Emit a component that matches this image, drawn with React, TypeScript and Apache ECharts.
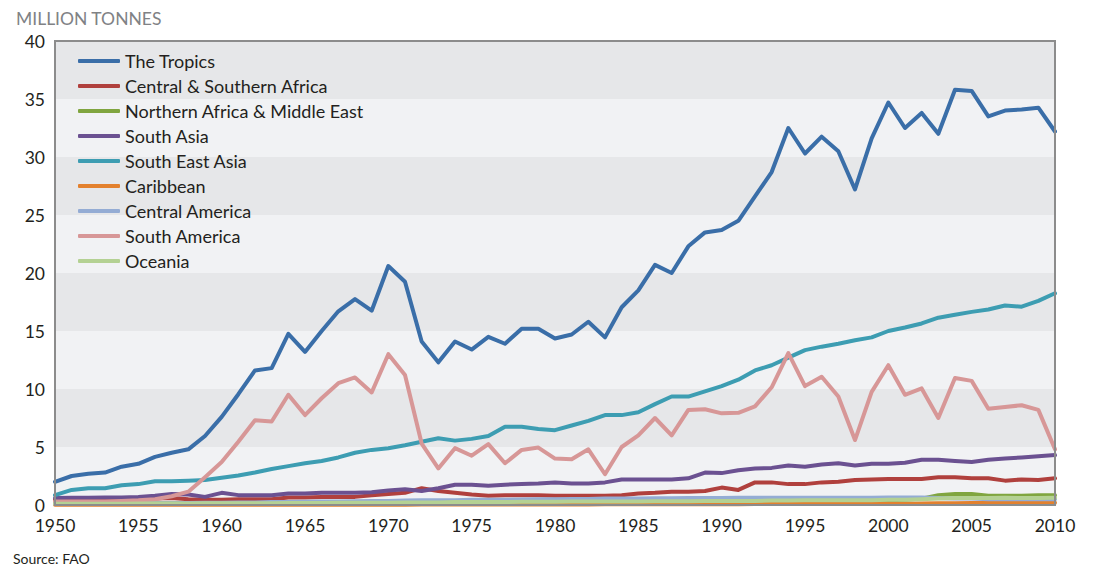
import React, { useEffect, useRef } from "react";
import * as echarts from "echarts";

const years: number[] = Array.from({ length: 61 }, (_, i) => 1950 + i);

const seriesNames = [
  "The Tropics",
  "Central & Southern Africa",
  "Northern Africa & Middle East",
  "South Asia",
  "South East Asia",
  "Caribbean",
  "Central America",
  "South America",
  "Oceania",
];

const seriesColors = [
  "#3a6ea8",
  "#b0403d",
  "#80a53f",
  "#6b5191",
  "#3d9db2",
  "#e3812e",
  "#94acd4",
  "#d79797",
  "#b4d193",
];

const tropics = [
  2.0, 2.5, 2.7, 2.8, 3.3, 3.55, 4.15, 4.5, 4.8, 5.95,
  7.6, 9.55, 11.6, 11.8, 14.75, 13.2, 15.0, 16.7, 17.75, 16.75,
  20.6, 19.25, 14.1, 12.3, 14.1, 13.4, 14.5, 13.9, 15.2, 15.2,
  14.35, 14.7, 15.8, 14.45, 17.05, 18.5, 20.7, 20.0, 22.3, 23.5,
  23.7, 24.5, 26.6, 28.7, 32.5, 30.3, 31.75, 30.5, 27.2, 31.6,
  34.7, 32.5, 33.8, 32.0, 35.8, 35.7, 33.5, 34.0, 34.1, 34.25, 32.2,
];

const centralSouthernAfrica = [
  0.45, 0.45, 0.45, 0.5, 0.5, 0.5, 0.55, 0.6, 0.5, 0.45,
  0.45, 0.5, 0.5, 0.5, 0.65, 0.65, 0.7, 0.7, 0.7, 0.85,
  0.95, 1.05, 1.45, 1.2, 1.05, 0.9, 0.8, 0.85, 0.85, 0.85,
  0.8, 0.8, 0.8, 0.8, 0.85, 1.0, 1.05, 1.15, 1.15, 1.2,
  1.5, 1.3, 1.95, 1.95, 1.8, 1.8, 1.95, 2.0, 2.15, 2.2,
  2.25, 2.25, 2.25, 2.4, 2.4, 2.3, 2.3, 2.1, 2.2, 2.15, 2.3,
];

const northernAfricaMiddleEast = [
  0.15, 0.15, 0.15, 0.15, 0.15, 0.15, 0.15, 0.15, 0.15, 0.15,
  0.15, 0.15, 0.18, 0.18, 0.2, 0.2, 0.2, 0.2, 0.22, 0.22,
  0.22, 0.22, 0.25, 0.25, 0.25, 0.25, 0.25, 0.28, 0.28, 0.28,
  0.28, 0.3, 0.3, 0.3, 0.3, 0.3, 0.3, 0.32, 0.32, 0.32,
  0.32, 0.32, 0.35, 0.35, 0.35, 0.35, 0.35, 0.38, 0.38, 0.4,
  0.4, 0.45, 0.55, 0.85, 0.95, 0.95, 0.8, 0.8, 0.8, 0.85, 0.85,
];

const southAsia = [
  0.6, 0.62, 0.63, 0.65, 0.65, 0.7, 0.8, 0.95, 0.9, 0.7,
  1.05, 0.85, 0.85, 0.85, 1.0, 1.0, 1.05, 1.05, 1.05, 1.1,
  1.25, 1.35, 1.2, 1.45, 1.75, 1.75, 1.65, 1.75, 1.8, 1.85,
  1.95, 1.85, 1.85, 1.95, 2.2, 2.2, 2.2, 2.2, 2.3, 2.8,
  2.75, 3.0, 3.15, 3.2, 3.4, 3.3, 3.5, 3.6, 3.4, 3.55,
  3.55, 3.65, 3.9, 3.9, 3.8, 3.7, 3.9, 4.0, 4.1, 4.2, 4.3,
];

const southEastAsia = [
  0.85, 1.3, 1.45, 1.45, 1.7, 1.8, 2.05, 2.05, 2.1, 2.15,
  2.35, 2.55, 2.8, 3.1, 3.35, 3.6, 3.8, 4.1, 4.5, 4.75,
  4.9, 5.15, 5.45, 5.75, 5.55, 5.7, 5.95, 6.75, 6.75, 6.55,
  6.45, 6.85, 7.25, 7.75, 7.75, 8.0, 8.7, 9.35, 9.35, 9.8,
  10.25, 10.8, 11.6, 12.05, 12.7, 13.35, 13.65, 13.9, 14.2, 14.45,
  15.0, 15.3, 15.65, 16.15, 16.4, 16.65, 16.85, 17.2, 17.1, 17.6, 18.25,
];

const caribbean = [
  0.02, 0.02, 0.02, 0.02, 0.02, 0.02, 0.02, 0.02, 0.02, 0.02,
  0.03, 0.03, 0.03, 0.03, 0.03, 0.03, 0.03, 0.03, 0.03, 0.03,
  0.03, 0.03, 0.04, 0.04, 0.04, 0.04, 0.05, 0.05, 0.05, 0.05,
  0.05, 0.05, 0.05, 0.06, 0.06, 0.06, 0.06, 0.07, 0.07, 0.07,
  0.07, 0.07, 0.08, 0.08, 0.08, 0.08, 0.09, 0.09, 0.1, 0.1,
  0.1, 0.1, 0.12, 0.15, 0.15, 0.18, 0.18, 0.18, 0.18, 0.2, 0.2,
];

const centralAmerica = [
  0.1, 0.1, 0.1, 0.12, 0.12, 0.15, 0.15, 0.15, 0.18, 0.2,
  0.2, 0.22, 0.22, 0.25, 0.25, 0.28, 0.3, 0.3, 0.32, 0.35,
  0.35, 0.38, 0.4, 0.4, 0.42, 0.45, 0.45, 0.45, 0.48, 0.5,
  0.5, 0.52, 0.52, 0.55, 0.55, 0.55, 0.58, 0.58, 0.6, 0.6,
  0.6, 0.62, 0.62, 0.62, 0.62, 0.62, 0.62, 0.62, 0.62, 0.62,
  0.65, 0.65, 0.65, 0.6, 0.55, 0.55, 0.5, 0.5, 0.5, 0.5, 0.5,
];

const southAmerica = [
  0.3, 0.3, 0.3, 0.3, 0.35, 0.4, 0.5, 0.75, 1.15, 2.4,
  3.7, 5.45, 7.3, 7.2, 9.5, 7.75, 9.2, 10.5, 11.0, 9.7,
  13.0, 11.2, 5.3, 3.15, 4.9, 4.25, 5.25, 3.6, 4.75, 4.95,
  4.0, 3.95, 4.8, 2.65, 5.0, 6.0, 7.5, 6.0, 8.2, 8.25,
  7.9, 7.95, 8.5, 10.15, 13.1, 10.25, 11.05, 9.35, 5.6, 9.75,
  12.05, 9.5, 10.05, 7.5, 10.95, 10.7, 8.3, 8.45, 8.6, 8.2, 4.8,
];

const oceania = [
  0.1, 0.1, 0.1, 0.1, 0.1, 0.12, 0.12, 0.12, 0.12, 0.15,
  0.15, 0.15, 0.15, 0.15, 0.18, 0.18, 0.18, 0.2, 0.2, 0.2,
  0.2, 0.22, 0.22, 0.22, 0.25, 0.25, 0.25, 0.25, 0.28, 0.28,
  0.28, 0.3, 0.3, 0.3, 0.3, 0.3, 0.32, 0.32, 0.32, 0.35,
  0.35, 0.35, 0.35, 0.38, 0.38, 0.4, 0.4, 0.4, 0.42, 0.42,
  0.45, 0.45, 0.5, 0.55, 0.6, 0.6, 0.6, 0.62, 0.6, 0.6, 0.62,
];

const allValues = [
  tropics,
  centralSouthernAfrica,
  northernAfricaMiddleEast,
  southAsia,
  southEastAsia,
  caribbean,
  centralAmerica,
  southAmerica,
  oceania,
];

const FONT = "Lato, 'Open Sans', sans-serif";
const TEXT = "#231f20";

export default function App() {
  const ref = useRef<HTMLDivElement>(null);

  useEffect(() => {
    if (!ref.current) return;
    const chart = echarts.init(ref.current, undefined, { renderer: "svg" });
    const series = seriesNames.map((name, i) => ({
      name,
      type: "line",
      data: years.map((y, j) => [y, allValues[i][j]]),
      showSymbol: false,
      symbol: "none",
      lineStyle: { color: seriesColors[i], width: 4, cap: "round", join: "round" },
      itemStyle: { color: seriesColors[i] },
      z: 2,
    }));

    chart.setOption({
      animation: false,
      backgroundColor: "#ffffff",
      textStyle: { fontFamily: FONT },
      title: [
        {
          text: "MILLION TONNES",
          left: 16,
          top: 9,
          padding: 0,
          textStyle: { fontFamily: FONT, fontSize: 17.5, fontWeight: "normal", color: "#808285" },
        },
        {
          text: "Source: FAO",
          left: 13,
          top: 551,
          padding: 0,
          textStyle: { fontFamily: FONT, fontSize: 14, fontWeight: "normal", color: TEXT },
        },
      ],
      legend: {
        orient: "vertical",
        left: 78,
        top: 50,
        padding: 0,
        itemWidth: 42,
        itemHeight: 4,
        itemGap: 3,
        itemTextGap: 10,
        icon: "roundRect",
        selectedMode: false,
        textStyle: { fontFamily: FONT, fontSize: 18, color: TEXT, lineHeight: 22 },
        data: seriesNames.map((n, i) => ({ name: n, itemStyle: { color: seriesColors[i] } })),
      },
      grid: {
        left: 55,
        right: 38,
        top: 41,
        bottom: 62,
        show: true,
        borderColor: "#8c8c8c",
        borderWidth: 2,
        backgroundColor: "transparent",
        z: 3,
      },
      xAxis: {
        type: "value",
        min: 1950,
        max: 2010,
        interval: 5,
        axisLine: { show: false },
        axisTick: { show: false },
        splitLine: { show: false },
        axisLabel: {
          fontFamily: FONT,
          fontSize: 17.5,
          color: TEXT,
          margin: 11,
          formatter: (v: number) => String(v),
        },
      },
      yAxis: {
        type: "value",
        min: 0,
        max: 40,
        interval: 5,
        axisLine: { show: false },
        axisTick: { show: false },
        splitLine: { show: false },
        splitArea: { show: true, areaStyle: { color: ["#f1f2f4", "#e6e7e9"] } },
        axisLabel: { fontFamily: FONT, fontSize: 17.5, color: TEXT, margin: 10 },
      },
      series,
    });
    return () => chart.dispose();
  }, []);

  return (
    <div
      ref={ref}
      style={{ position: "fixed", left: 0, top: 0, width: 1093, height: 567 }}
    />
  );
}
